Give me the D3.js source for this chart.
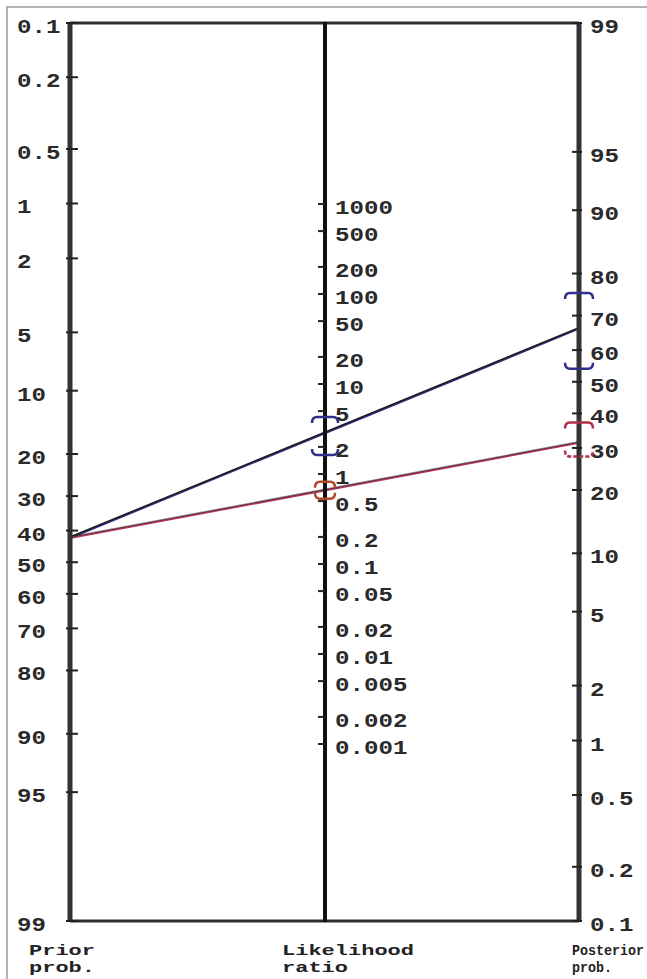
<!DOCTYPE html>
<html>
<head>
<meta charset="utf-8">
<script src="https://cdn.jsdelivr.net/npm/d3@7"></script>
<style>
  html, body { margin: 0; padding: 0; background: #fff; }
  svg { display: block; }
  .tick-label { font-family: 'Liberation Mono', 'DejaVu Sans Mono', monospace; font-weight: bold; font-size: 21px; fill: #2a2a2a; }
  .axis-title { font-family: 'Liberation Mono', 'DejaVu Sans Mono', monospace; font-weight: bold; font-size: 14px; fill: #222; }
</style>
</head>
<body>
<div id="chart"></div>
<script>
// tick values (percent / ratio)
const priorTicks = [0.1, 0.2, 0.5, 1, 2, 5, 10, 20, 30, 40, 50, 60, 70, 80, 90, 95, 99];
const ratioTicks = [1000, 500, 200, 100, 50, 20, 10, 5, 2, 1, 0.5, 0.2, 0.1, 0.05, 0.02, 0.01, 0.005, 0.002, 0.001];
const posteriorTicks = [99, 95, 90, 80, 70, 60, 50, 40, 30, 20, 10, 5, 2, 1, 0.5, 0.2, 0.1];

// pretest probability and the two likelihood ratios with their intervals
const priorProb = 42;
const testNames = ['positive', 'negative'];
const ratioValues = [2.76, 0.64];
const ratioLower = [1.63, 0.53];
const ratioUpper = [4.3, 0.82];

const titles = [['Prior', 'prob.'], ['Likelihood', 'ratio'], ['Posterior', 'prob.']];

class Nomogram {
  constructor(element) {
    this.element = element;
    this.init();
  }

  init() {
    this.setConstants();
    this.initSvg();
    this.drawFrame();
    this.drawLines();
    this.drawAxes();
    this.drawBrackets();
    this.drawTitles();
  }

  setConstants() {
    this.width = 647;
    this.height = 979;
    this.top = 23;
    this.bottom = 921;
    this.xLeft = 70;
    this.xMid = 325;
    this.xRight = 579;
    this.logit = (p) => Math.log(p / (100 - p));
    this.leftScale = d3.scaleLinear()
      .domain([this.logit(0.1), this.logit(99)])
      .range([this.top, this.bottom]);
    this.rightScale = d3.scaleLinear()
      .domain([this.logit(99), this.logit(0.1)])
      .range([this.top, this.bottom]);
    this.midScale = d3.scaleLog()
      .domain([1000, 0.001])
      .range([204, 744]);
    this.post = (p, lr) => {
      const odds = (p / (100 - p)) * lr;
      return (100 * odds) / (1 + odds);
    };
    this.yLeft = (p) => this.leftScale(this.logit(p));
    this.yRight = (p) => this.rightScale(this.logit(p));
  }

  initSvg() {
    this.svg = d3.select(this.element)
      .append('svg')
      .attr('width', this.width)
      .attr('height', this.height);
  }

  drawFrame() {
    this.svg.append('rect')
      .attr('x', 7)
      .attr('y', 7)
      .attr('width', this.width)
      .attr('height', this.height)
      .attr('fill', 'none')
      .attr('stroke', '#9a9a9a')
      .attr('stroke-width', 1.5);

    [this.top, this.bottom].forEach((y) => {
      this.svg.append('line')
        .attr('x1', this.xLeft)
        .attr('x2', this.xRight)
        .attr('y1', y)
        .attr('y2', y)
        .attr('stroke', '#2e2e2e')
        .attr('stroke-width', 3);
    });
  }

  drawAxes() {
    const axes = [
      { x: this.xLeft, ticks: priorTicks, y: this.yLeft, tx: [-4, 8], lx: 17, w: 5, color: '#333' },
      { x: this.xMid, ticks: ratioTicks, y: (v) => this.midScale(v), tx: [-7, 0], lx: 335, w: 4, color: '#111' },
      { x: this.xRight, ticks: posteriorTicks, y: this.yRight, tx: [-7, 3], lx: 590, w: 5, color: '#333' },
    ];

    axes.forEach((axis) => {
      this.svg.append('line')
        .attr('x1', axis.x)
        .attr('x2', axis.x)
        .attr('y1', this.top - 1)
        .attr('y2', this.bottom + 1)
        .attr('stroke', axis.color)
        .attr('stroke-width', axis.w);

      const g = this.svg.append('g');
      g.selectAll('line')
        .data(axis.ticks)
        .enter()
        .append('line')
        .attr('x1', axis.x + axis.tx[0])
        .attr('x2', axis.x + axis.tx[1])
        .attr('y1', (d) => axis.y(d))
        .attr('y2', (d) => axis.y(d))
        .attr('stroke', '#222')
        .attr('stroke-width', 2);

      g.selectAll('text')
        .data(axis.ticks)
        .enter()
        .append('text')
        .attr('class', 'tick-label')
        .attr('x', axis.lx)
        .attr('y', (d) => axis.y(d) + 10)
        .attr('textLength', (d) => String(d).length * 14.5)
        .attr('lengthAdjust', 'spacingAndGlyphs')
        .text((d) => d);
    });
  }

  drawLines() {
    const colors = ['#34348c', '#b23a58'];
    const y0 = this.yLeft(priorProb);
    ratioValues.forEach((lr, i) => {
      const y1 = this.yRight(this.post(priorProb, lr));
      // coloured trace with a dark trace over it
      this.svg.append('line')
        .attr('class', `line-${testNames[i]}`)
        .attr('x1', this.xLeft)
        .attr('y1', y0 + 1)
        .attr('x2', this.xRight)
        .attr('y2', y1 + 1)
        .attr('stroke', colors[i])
        .attr('stroke-width', 2);
      this.svg.append('line')
        .attr('x1', this.xLeft)
        .attr('y1', y0)
        .attr('x2', this.xRight)
        .attr('y2', y1)
        .attr('stroke', '#1c1c1c')
        .attr('stroke-opacity', i === 0 ? 1 : 0.5)
        .attr('stroke-width', 1.6);
    });
  }

  bracketPath(x, y, half, dir) {
    // dir = 1: hooks point down, -1: hooks point up
    const h = 6 * dir;
    return `M${x - half},${y + h} Q${x - half},${y} ${x - half + 5},${y} L${x + half - 5},${y} Q${x + half},${y} ${x + half},${y + h}`;
  }

  drawBrackets() {
    const midColors = ['#30308a', '#b04a2a'];
    const rightColors = ['#30308a', '#b0304a'];
    ratioValues.forEach((lr, i) => {
      const bounds = [ratioUpper[i], ratioLower[i]];
      bounds.forEach((b, j) => {
        const dir = j === 0 ? 1 : -1;
        const half = i === 0 ? 13 : 10;
        this.svg.append('path')
          .attr('d', this.bracketPath(this.xMid, this.midScale(b), half, dir))
          .attr('fill', 'none')
          .attr('stroke', midColors[i])
          .attr('stroke-width', 2.5);
        this.svg.append('path')
          .attr('d', this.bracketPath(this.xRight, this.yRight(this.post(priorProb, b)), 14, dir))
          .attr('fill', 'none')
          .attr('stroke', rightColors[i])
          .attr('stroke-width', 2.5)
          .attr('stroke-dasharray', i === 1 && j === 1 ? '4,2' : null);
      });
    });
  }

  drawTitles() {
    const xs = [29, 282, 572];
    const charW = [13.2, 13.2, 8];
    titles.forEach((lines, i) => {
      lines.forEach((t, k) => {
        this.svg.append('text')
          .attr('class', 'axis-title')
          .attr('x', xs[i])
          .attr('y', 955 + k * 17)
          .attr('textLength', t.length * charW[i])
          .attr('lengthAdjust', 'spacingAndGlyphs')
          .text(t);
      });
    });
  }
}

new Nomogram(document.getElementById('chart'));
</script>
</body>
</html>
